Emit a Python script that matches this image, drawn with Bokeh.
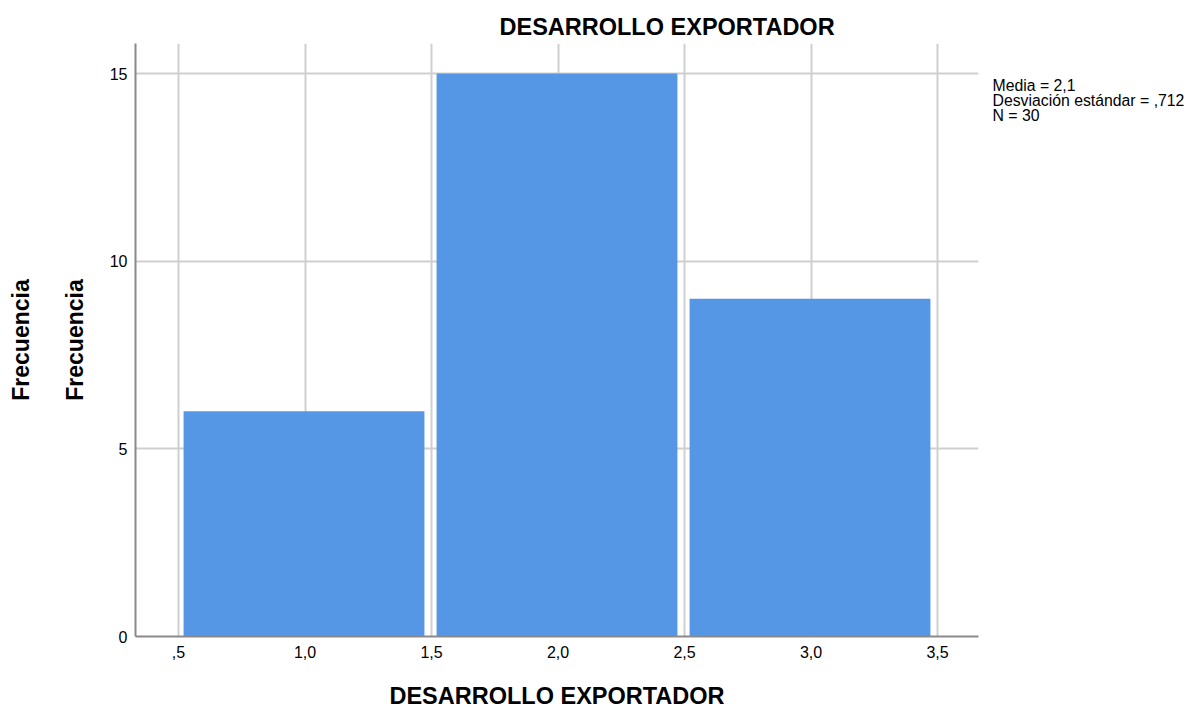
from bokeh.plotting import figure
from bokeh.models import FixedTicker, Range1d, LinearAxis
from bokeh.embed import file_html
from bokeh.resources import INLINE

# Data
bin_lefts = [0.5, 1.5, 2.5]
bin_rights = [1.5, 2.5, 3.5]
counts = [6, 15, 9]
x_ticks = [0.5, 1.0, 1.5, 2.0, 2.5, 3.0, 3.5]
x_tick_labels = [",5", "1,0", "1,5", "2,0", "2,5", "3,0", "3,5"]
y_ticks = [0, 5, 10, 15]
title_text = "DESARROLLO EXPORTADOR"
x_label_text = "DESARROLLO EXPORTADOR"
y_label_text = "Frecuencia"
stats_lines = ["Media = 2,1", "Desviación estándar = ,712", "N = 30"]

FONT = "Liberation Sans"
BAR = "#5597e5"

# layout constants (pixels)
Y_TOP = 15.8
FRAME_H = 711 - 43 - 74
STATS_PX_FROM_TOP = [41.8, 56.8, 71.8]   # centres of the stats lines, below frame top
stats_pos = [Y_TOP - px * Y_TOP / FRAME_H for px in STATS_PX_FROM_TOP]

p = figure(width=1195, height=711, output_backend="svg", toolbar_location=None,
           x_range=Range1d(0.33, 3.662), y_range=Range1d(0, Y_TOP),
           min_border_left=135, min_border_right=217, min_border_top=43,
           min_border_bottom=74)
p.outline_line_color = None
p.background_fill_color = "white"
p.border_fill_color = "white"

# title
p.title.text = title_text
p.title.text_font = FONT
p.title.text_font_size = "23.5px"
p.title.text_font_style = "bold"
p.title.text_color = "#000000"
p.title.align = "left"
p.title.offset = 364
p.title.standoff = 7

# bars (slightly inset so the gridlines show in the gaps)
p.quad(left=[l + 0.02 for l in bin_lefts], right=[r - 0.028 for r in bin_rights],
       bottom=0, top=counts, fill_color=BAR, line_color=None)

for ax in (p.xaxis[0], p.yaxis[0]):
    ax.axis_line_color = "#8a8a8a"
    ax.axis_line_width = 2
    ax.major_tick_out = 0
    ax.major_tick_in = 0
    ax.minor_tick_out = 0
    ax.minor_tick_in = 0
    ax.major_label_text_font = FONT
    ax.major_label_text_font_size = "16px"
    ax.major_label_text_color = "#000000"
    ax.axis_label_text_font = FONT
    ax.axis_label_text_font_style = "bold"
    ax.axis_label_text_color = "#000000"

p.xaxis.ticker = FixedTicker(ticks=x_ticks)
p.xaxis.major_label_overrides = {t: s for t, s in zip(x_ticks, x_tick_labels)}
p.xaxis.major_label_standoff = 9
p.xaxis.axis_label = x_label_text
p.xaxis.axis_label_text_font_size = "23.5px"
p.xaxis.axis_label_standoff = 22

p.yaxis.ticker = FixedTicker(ticks=y_ticks)
p.yaxis.major_label_standoff = 8
p.yaxis.axis_label = y_label_text
p.yaxis.axis_label_text_font_size = "23px"
p.yaxis.axis_label_standoff = 19

# second (outer) y axis label
ax2 = LinearAxis(ticker=FixedTicker(ticks=[]), axis_line_color=None,
                 major_tick_out=0, major_tick_in=0, minor_tick_out=0, minor_tick_in=0,
                 major_label_standoff=0, axis_label=y_label_text,
                 axis_label_text_font=FONT, axis_label_text_font_style="bold",
                 axis_label_text_font_size="23px", axis_label_text_color="#000000",
                 axis_label_standoff=25)
p.add_layout(ax2, "left")

# statistics block on the right (as labels of an unlined right axis)
ax3 = LinearAxis(ticker=FixedTicker(ticks=stats_pos), axis_line_color=None,
                 major_tick_out=0, major_tick_in=0, minor_tick_out=0, minor_tick_in=0,
                 major_label_standoff=14,
                 major_label_overrides={v: s for v, s in zip(stats_pos, stats_lines)},
                 major_label_text_font=FONT, major_label_text_font_size="15.8px",
                 major_label_text_color="#000000")
p.add_layout(ax3, "right")

p.xgrid.ticker = FixedTicker(ticks=x_ticks)
p.ygrid.ticker = FixedTicker(ticks=y_ticks)
for g in (p.xgrid[0], p.ygrid[0]):
    g.grid_line_color = "#cfcfcf"
    g.grid_line_width = 2

open("out.html", "w").write(file_html(p, INLINE))
